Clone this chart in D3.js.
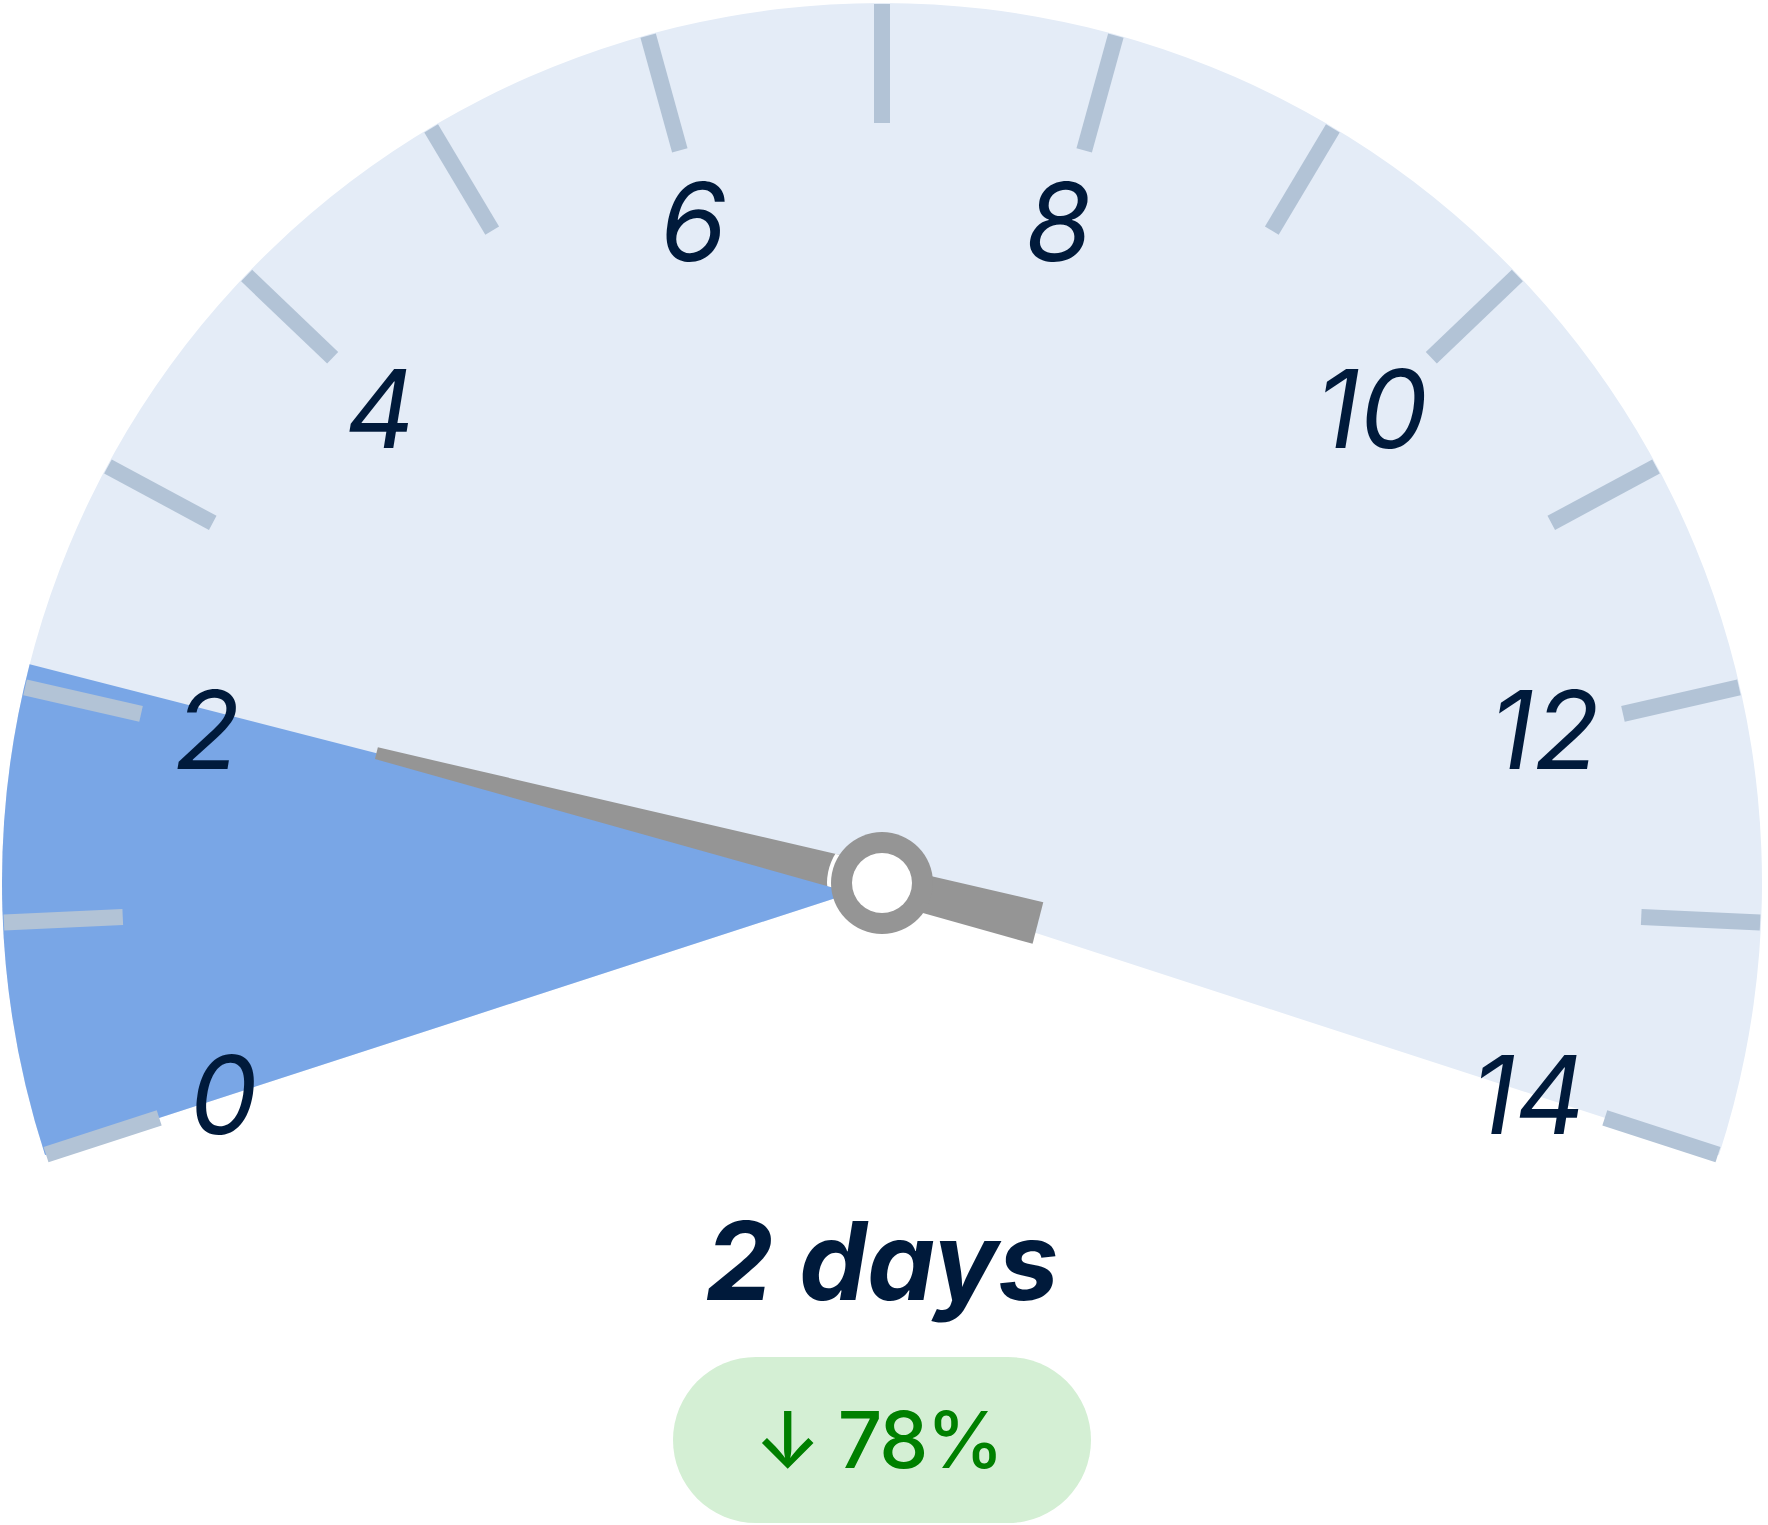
<!DOCTYPE html>
<html>
<head>
<meta charset="utf-8">
<script src="https://cdn.jsdelivr.net/npm/d3@7"></script>
<style>
  html, body { margin: 0; padding: 0; background: #ffffff; }
  svg { display: block; }
</style>
</head>
<body>
<svg id="chart" width="1768" height="1525"></svg>
<script>
// ---------------- data ----------------
const gaugeDomain = [0, 14];
const tickValues = [0, 1, 2, 3, 4, 5, 6, 7, 8, 9, 10, 11, 12, 13, 14];
const labelValues = [0, 2, 4, 6, 8, 10, 12, 14];
const tickLabels = ["0", "2", "4", "6", "8", "10", "12", "14"];
const currentValue = 2.1;
const unitLabel = "days";
const changeDirection = "↓";
const changePercent = 78;

// ---------------- layout ----------------
const svg = d3.select("#chart");
const cx = 882, cy = 883;
const outerR = 880;
const tickInnerR = 760, tickOuterR = 879;
const labelR = 686;
const navy = "#001a3b";
const fontFam = "Inter, 'Noto Sans', sans-serif";

const angleScale = d3.scaleLinear().domain(gaugeDomain).range([-108, 108]);
const rad = d => d * Math.PI / 180;

const g = svg.append("g").attr("transform", `translate(${cx},${cy})`);

// background arc
const arc = d3.arc().innerRadius(0).outerRadius(outerR);
g.append("path")
  .attr("d", arc({ startAngle: rad(angleScale(gaugeDomain[0])), endAngle: rad(angleScale(gaugeDomain[1])) }))
  .attr("fill", "#e4ecf7");

// value arc
g.append("path")
  .attr("d", arc({ startAngle: rad(angleScale(gaugeDomain[0])), endAngle: rad(angleScale(currentValue)) }))
  .attr("fill", "#79a6e6");

// ticks
g.selectAll("line.tick")
  .data(tickValues)
  .join("line")
  .attr("class", "tick")
  .attr("x1", d => tickInnerR * Math.sin(rad(angleScale(d))))
  .attr("y1", d => -tickInnerR * Math.cos(rad(angleScale(d))))
  .attr("x2", d => tickOuterR * Math.sin(rad(angleScale(d))))
  .attr("y2", d => -tickOuterR * Math.cos(rad(angleScale(d))))
  .attr("stroke", "#b2c3d6")
  .attr("stroke-width", 16);

// tick labels
g.selectAll("text.lbl")
  .data(labelValues)
  .join("text")
  .attr("class", "lbl")
  .attr("x", d => labelR * Math.sin(rad(angleScale(d))) - 6)
  .attr("y", d => -labelR * Math.cos(rad(angleScale(d))))
  .attr("dy", "0.36em")
  .attr("text-anchor", "middle")
  .attr("font-family", fontFam)
  .attr("font-style", "italic")
  .attr("font-size", 108)
  .attr("fill", navy)
  .text((d, i) => tickLabels[i]);

// needle
const tailLen = 161, tipLen = 522, tailHalf = 21.5, tipHalf = 6;
const midHalf = tipHalf + (tailHalf - tipHalf) * (tipLen / (tipLen + tailLen));
const needleAngle = angleScale(currentValue);
const tipPts = [[-midHalf, 0], [midHalf, 0], [tipHalf, -tipLen], [-tipHalf, -tipLen]];
const tailPts = [[-tailHalf, tailLen], [tailHalf, tailLen], [midHalf, 0], [-midHalf, 0]];

const defs = svg.append("defs");
defs.append("clipPath").attr("id", "tipClip")
  .append("polygon")
  .attr("points", tipPts.map(p => p.join(",")).join(" "))
  .attr("transform", `rotate(${needleAngle})`);

const ng = g.append("g");
ng.append("polygon")
  .attr("points", tipPts.map(p => p.join(",")).join(" "))
  .attr("transform", `rotate(${needleAngle})`)
  .attr("fill", "#959595");
ng.append("polygon")
  .attr("points", tailPts.map(p => p.join(",")).join(" "))
  .attr("transform", `rotate(${needleAngle})`)
  .attr("fill", "#959595");
ng.append("circle").attr("r", 55).attr("fill", "#ffffff").attr("clip-path", "url(#tipClip)");
ng.append("circle").attr("r", 51).attr("fill", "#959595");
ng.append("circle").attr("r", 30).attr("fill", "#ffffff");

// value text
svg.append("text")
  .attr("x", cx)
  .attr("y", 1300)
  .attr("text-anchor", "middle")
  .attr("font-family", fontFam)
  .attr("font-style", "italic")
  .attr("font-weight", "bold")
  .attr("font-size", 108)
  .attr("fill", navy)
  .text(`${d3.format(".0f")(currentValue)} ${unitLabel}`);

// change badge
const badgeW = 418, badgeH = 166;
svg.append("rect")
  .attr("x", cx - badgeW / 2)
  .attr("y", 1357)
  .attr("width", badgeW)
  .attr("height", badgeH)
  .attr("rx", badgeH / 2)
  .attr("fill", "#d4efd4");
svg.append("text")
  .attr("x", cx - 4)
  .attr("y", 1468)
  .attr("text-anchor", "middle")
  .attr("font-family", fontFam)
  .attr("font-weight", 500)
  .attr("font-size", 78)
  .attr("letter-spacing", -2)
  .attr("fill", "#008000")
  .text(`${changeDirection} ${changePercent}%`);
</script>
</body>
</html>
